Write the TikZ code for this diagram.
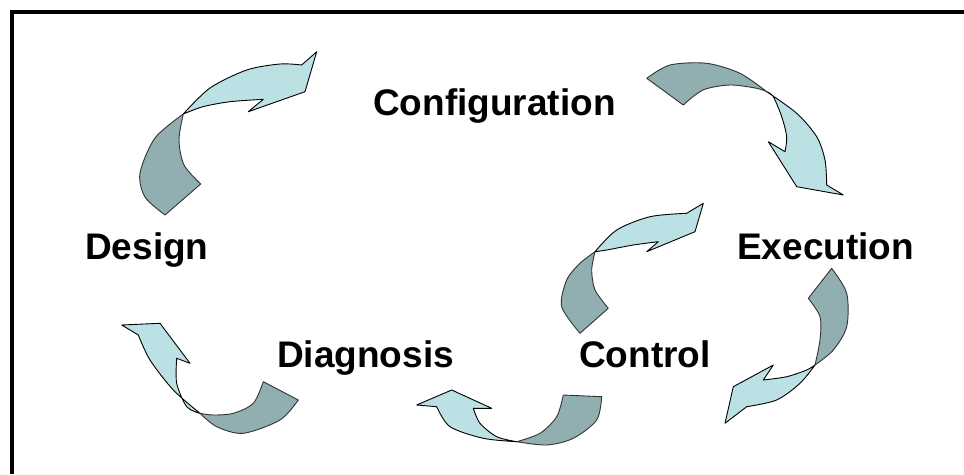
\documentclass[tikz,border=0pt]{standalone}
\usepackage{fontspec}
\setmainfont{Liberation Sans}
\definecolor{headcol}{RGB}{187,225,228}
\definecolor{tailcol}{RGB}{145,174,177}
\tikzset{
  lbl/.style={anchor=base west, inner sep=0pt, font=\fontsize{37}{44}\selectfont\bfseries},
  headpart/.style={fill=headcol, draw=black, line width=0.9pt, line join=round},
  tailpart/.style={fill=tailcol, draw=black!80, line width=0.9pt, line join=round},
  frameline/.style={line width=4.5pt, draw=black}
}
\begin{document}
\begin{tikzpicture}[x=1pt,y=-1pt]
\useasboundingbox (0,0) rectangle (964,474);
\fill[white] (0,0) rectangle (964,474);
\draw[frameline] (12,474) -- (12,12) -- (964,12);

% Labels
\node[lbl] (config) at (373,115) {Configuration};
\node[lbl] (design) at (85,259) {Design};
\node[lbl] (exec) at (737,259) {Execution};
\node[lbl] (diag) at (277,367) {Diagnosis};
\node[lbl] (ctrl) at (579,367) {Control};

% Arrow 1: Design -> Configuration
\path[tailpart] (165,215) -- (200.7,184)
  -- plot[smooth] coordinates {(200.7,184) (184,165) (179,140) (183.3,114)}
  -- plot[smooth] coordinates {(183.3,114) (155,138) (140,173) (145,197) (165,215)} -- cycle;
\path[headpart] (183.3,114)
  -- plot[smooth] coordinates {(183.3,114) (210,88) (246.7,70) (280,64) (301.7,65)}
  -- (316.7,51.7) -- (305,91.7) -- (248.3,111.7) -- (263.3,99.3)
  -- plot[smooth] coordinates {(263.3,99.3) (230,101.7) (203,106.7) (183.3,114)} -- cycle;

% Arrow 2: Configuration -> Execution
\path[tailpart] (646.7,78.3)
  -- plot[smooth] coordinates {(646.7,78.3) (670,65) (706.7,63.3) (740,73.3) (766.7,91.7)}
  -- plot[smooth] coordinates {(766.7,91.7) (756.7,88.3) (730,85) (703,90) (683.3,105)} -- cycle;
\path[headpart] (766.7,91.7)
  -- plot[smooth] coordinates {(766.7,91.7) (796.7,113.3) (816.7,136.7) (825,160) (826.7,185)}
  -- (843.3,195) -- (796.7,186.7) -- (768.3,141.7) -- (785,151.7)
  -- plot[smooth] coordinates {(785,151.7) (786.7,136.7) (781.7,116.7) (773.3,96.7) (766.7,91.7)} -- cycle;

% Arrow 3: small arrow near Control
\path[tailpart] (580,333.3) -- (608.3,308.3)
  -- plot[smooth] coordinates {(608.3,308.3) (595,290) (591.7,270) (595,251.7)}
  -- plot[smooth] coordinates {(595,251.7) (580,263.3) (566.7,280) (561.7,306.7) (580,333.3)} -- cycle;
\path[headpart] (595,251.7)
  -- plot[smooth] coordinates {(595,251.7) (616.7,230) (650,216.7) (686.7,213.3)}
  -- (703.3,203.3) -- (695,231.7) -- (646.7,251.7) -- (658.3,241.7)
  -- plot[smooth] coordinates {(658.3,241.7) (633.3,245) (606.7,250) (595,251.7)} -- cycle;

% Arrow 4: Execution -> Control
\path[tailpart] (831.7,268.3)
  -- plot[smooth] coordinates {(831.7,268.3) (846.7,293.3) (846.7,326.7) (833.3,350) (815,365)}
  -- plot[smooth] coordinates {(815,365) (820,340) (820,316.7) (808.3,298.3)} -- cycle;
\path[headpart] (815,365)
  -- plot[smooth] coordinates {(815,365) (800,383.3) (776.7,400) (746.7,406.7)}
  -- (725,423.3) -- (733.3,386.7) -- (773.3,365) -- (763.3,380)
  -- plot[smooth] coordinates {(763.3,380) (786.7,376.7) (806.7,370) (815,365)} -- cycle;

% Arrow 5: Control -> Diagnosis
\path[tailpart] (601.7,396.7)
  -- plot[smooth] coordinates {(601.7,396.7) (596.7,420) (573.3,438.3) (546.7,445) (516.7,441.7)}
  -- plot[smooth] coordinates {(516.7,441.7) (540,433.3) (556.7,416.7) (563.3,395)} -- cycle;
\path[headpart] (516.7,441.7)
  -- plot[smooth] coordinates {(516.7,441.7) (483.3,438.3) (450,426.7) (436.7,406.7)}
  -- (416.7,405) -- (451.7,390) -- (491.7,408.3) -- (473.3,408.3)
  -- plot[smooth] coordinates {(473.3,408.3) (480,423.3) (496.7,436.7) (516.7,441.7)} -- cycle;

% Arrow 6: Diagnosis -> Design
\path[tailpart] (263.3,381.7) -- (298.3,400)
  -- plot[smooth] coordinates {(298.3,400) (280,420) (243.3,433.3) (216.7,426.7) (200,413.3)}
  -- plot[smooth] coordinates {(200,413.3) (213.3,415) (233.3,413.3) (253.3,403.3) (263.3,381.7)} -- cycle;
\path[headpart] (200,413.3)
  -- plot[smooth] coordinates {(200,413.3) (173.3,390) (150,360) (138.3,335)}
  -- (121.7,325) -- (160,323.3) -- (190,363.3) -- (176.7,358.3)
  -- plot[smooth] coordinates {(176.7,358.3) (176.7,383.3) (186.7,406.7) (200,413.3)} -- cycle;
\end{tikzpicture}
\end{document}
